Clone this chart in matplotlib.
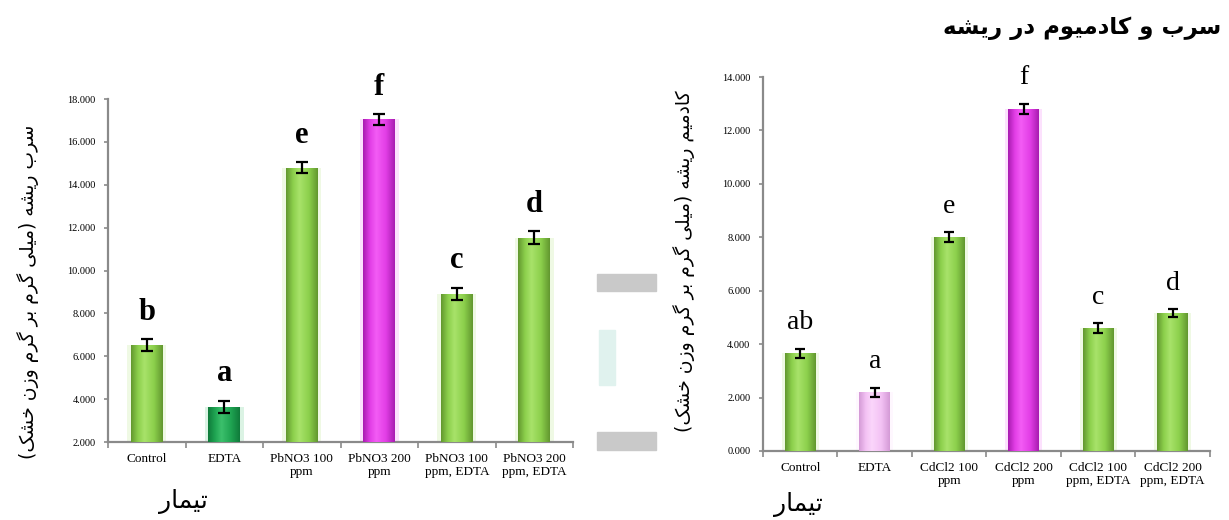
import numpy as np
import matplotlib
matplotlib.use("Agg")
import matplotlib.pyplot as plt
from matplotlib.colors import LinearSegmentedColormap
from matplotlib.patches import Rectangle

# lead (Pb) in root
pb_labels = ["Control", "EDTA", "PbNO3 100\nppm", "PbNO3 200\nppm",
             "PbNO3 100\nppm, EDTA", "PbNO3 200\nppm, EDTA"]
pb_means = [6.52, 3.65, 14.8, 17.05, 8.92, 11.52]
pb_err = [0.27, 0.28, 0.25, 0.25, 0.28, 0.30]
pb_letters = ["b", "a", "e", "f", "c", "d"]

# cadmium (Cd) in root
cd_labels = ["Control", "EDTA", "CdCl2 100\nppm", "CdCl2 200\nppm",
             "CdCl2 100\nppm, EDTA", "CdCl2 200\nppm, EDTA"]
cd_means = [3.65, 2.2, 8.0, 12.8, 4.6, 5.15]
cd_err = [0.18, 0.17, 0.18, 0.20, 0.18, 0.15]
cd_letters = ["ab", "a", "e", "f", "c", "d"]

title_txt = "سرب و کادمیوم در ریشه"
pb_ylabel = "سرب ریشه (میلی گرم بر گرم وزن خشک)"
cd_ylabel = "کادمیم ریشه (میلی گرم بر گرم وزن خشک)"
xlabel_txt = "تیمار"

# (dark edge, mid, highlight)
palette = {
    "green": ("#62972f", "#8cd04c", "#a8e26a"),
    "dgreen": ("#0f7a3a", "#1fa452", "#3cc06c"),
    "magenta": ("#a81cb0", "#e23ee6", "#f35cf5"),
    "pink": ("#d49ad6", "#f3c2f4", "#fbd6fb"),
}
pb_colors = ["green", "dgreen", "green", "magenta", "green", "green"]
cd_colors = ["green", "pink", "green", "magenta", "green", "green"]

# persian presentation forms: isolated, final, initial, medial
FORMS = {
    "ا": (0xFE8D, 0xFE8E, None, None),
    "ب": (0xFE8F, 0xFE90, 0xFE91, 0xFE92),
    "ت": (0xFE95, 0xFE96, 0xFE97, 0xFE98),
    "خ": (0xFEA5, 0xFEA6, 0xFEA7, 0xFEA8),
    "د": (0xFEA9, 0xFEAA, None, None),
    "ر": (0xFEAD, 0xFEAE, None, None),
    "ز": (0xFEAF, 0xFEB0, None, None),
    "س": (0xFEB1, 0xFEB2, 0xFEB3, 0xFEB4),
    "ش": (0xFEB5, 0xFEB6, 0xFEB7, 0xFEB8),
    "ل": (0xFEDD, 0xFEDE, 0xFEDF, 0xFEE0),
    "م": (0xFEE1, 0xFEE2, 0xFEE3, 0xFEE4),
    "ن": (0xFEE5, 0xFEE6, 0xFEE7, 0xFEE8),
    "ه": (0xFEE9, 0xFEEA, 0xFEEB, 0xFEEC),
    "و": (0xFEED, 0xFEEE, None, None),
    "ک": (0xFB8E, 0xFB8F, 0xFB90, 0xFB91),
    "گ": (0xFB92, 0xFB93, 0xFB94, 0xFB95),
    "ی": (0xFBFC, 0xFBFD, 0xFBFE, 0xFBFF),
}


def rtl(text):
    # join letters and flip to visual order, matplotlib does no shaping
    out = []
    for i, c in enumerate(text):
        f = FORMS.get(c)
        if f is None:
            out.append(c)
            continue
        prev = FORMS.get(text[i - 1]) if i > 0 else None
        nxt = FORMS.get(text[i + 1]) if i < len(text) - 1 else None
        jp = prev is not None and prev[2] is not None
        jn = nxt is not None and f[2] is not None
        k = 3 if (jp and jn) else 1 if jp else 2 if jn else 0
        out.append(chr(f[k]))
    return "".join(reversed(out)).translate(str.maketrans("()", ")("))


FA = ["DejaVu Sans"]
SERIF = ["Liberation Serif", "DejaVu Serif"]
AXC = "#8a8a8a"


def draw_panel(ax, labels, means, errs, letters, colors, ymin, ymax, letter_kw, cap):
    x = np.arange(len(means))
    w = 0.41
    grad = np.linspace(0, 1, 128).reshape(1, -1)
    for xi, m, cname in zip(x, means, colors):
        dark, mid, light = palette[cname]
        # soft glow round each bar
        ax.bar(xi, m - ymin, bottom=ymin, width=w * 1.22, color=light, alpha=0.18,
               zorder=1, linewidth=0)
        bar = ax.bar(xi, m - ymin, bottom=ymin, width=w, color=mid, zorder=2,
                     linewidth=0)[0]
        cmap = LinearSegmentedColormap.from_list(
            "", [(0, dark), (0.22, mid), (0.42, light), (0.72, mid), (1, dark)])
        im = ax.imshow(grad, cmap=cmap, aspect="auto", zorder=3,
                       extent=(xi - w / 2, xi + w / 2, ymin, m))
        im.set_clip_path(bar)
    ax.errorbar(x, means, yerr=errs, fmt="none", ecolor="black", elinewidth=1.6,
                capsize=cap, capthick=1.6, zorder=5)
    for xi, m, e, t in zip(x, means, errs, letters):
        ax.annotate(t, (xi, m + e), xytext=(0, 14), textcoords="offset points",
                    ha="center", va="baseline", family=SERIF, **letter_kw)

    ax.set_xlim(-0.5, len(means) - 0.5)
    ax.set_ylim(ymin, ymax)
    ax.set_yticks(np.arange(ymin, ymax + 0.1, 2))
    ax.set_yticklabels([f"{v:.3f}" for v in np.arange(ymin, ymax + 0.1, 2)],
                       family=SERIF, fontsize=7.5)
    ax.set_xticks(x)
    ax.set_xticklabels(labels, family=SERIF, fontsize=9.5, linespacing=1.15)
    ax.set_xticks(np.arange(-0.5, len(means), 1), minor=True)
    ax.tick_params(axis="x", which="major", length=0, pad=8)
    ax.tick_params(axis="x", which="minor", length=4, width=1.2, color=AXC)
    ax.tick_params(axis="y", length=3, width=1.2, color=AXC, pad=6)
    for s in ("top", "right"):
        ax.spines[s].set_visible(False)
    for s in ("left", "bottom"):
        ax.spines[s].set_color(AXC)
        ax.spines[s].set_linewidth(1.6)
    ax.set_facecolor("none")


fig = plt.figure(figsize=(12.29, 5.2), dpi=100)

# faint watermark between the two panels
for yb in (0.135, 0.44):
    fig.patches.append(Rectangle((0.486, yb), 0.048, 0.034, transform=fig.transFigure,
                                 color="#c9c9c9", zorder=0))
fig.patches.append(Rectangle((0.487, 0.26), 0.013, 0.105, transform=fig.transFigure,
                             color="#e0f2ee", zorder=0))

ax1 = fig.add_axes([0.0879, 0.15, 0.3784, 0.6596])
draw_panel(ax1, pb_labels, pb_means, pb_err, pb_letters, pb_colors, 2, 18,
           dict(fontsize=22, fontweight="bold"), 4)

ax2 = fig.add_axes([0.6208, 0.1327, 0.3637, 0.7192])
draw_panel(ax2, cd_labels, cd_means, cd_err, cd_letters, cd_colors, 0, 14,
           dict(fontsize=20), 3.5)

fig.text(0.0228, 0.4385, rtl(pb_ylabel), rotation=90, ha="center", va="center",
         family=FA, fontsize=13.5)
fig.text(0.5565, 0.498, rtl(cd_ylabel), rotation=90, ha="center", va="center",
         family=FA, fontsize=13.5)
fig.text(0.149, 0.035, rtl(xlabel_txt), ha="center", va="center", family=FA, fontsize=18)
fig.text(0.650, 0.029, rtl(xlabel_txt), ha="center", va="center", family=FA, fontsize=18)
fig.text(0.994, 0.945, rtl(title_txt), ha="right", va="center", family=FA,
         fontsize=16.5, fontweight="bold")

fig.savefig("out.png", dpi=100)
